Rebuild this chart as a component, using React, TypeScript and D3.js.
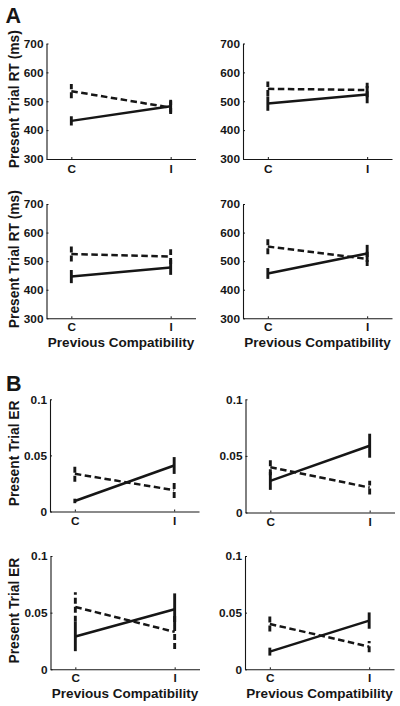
import React, { useEffect, useRef } from "react";
import * as d3 from "d3";

// ---- data ----
const conditions = ["C", "I"];
const conditionX = [1, 2];

const rtTicks = [300, 400, 500, 600, 700];
const rtTickLabels = ["300", "400", "500", "600", "700"];
const erTicks = [0, 0.05, 0.1];
const erTickLabels = ["0", "0.05", "0.1"];

// Panel A (RT, ms): [TL, TR, BL, BR], each [C, I]
const rtSolidMean = [[432, 483], [492, 523], [446, 478], [457, 527]];
const rtSolidErr = [[16, 22], [25, 30], [23, 26], [19, 30]];
const rtDashedMean = [[535, 478], [543, 539], [525, 516], [551, 508]];
const rtDashedErr = [[25, 22], [25, 25], [26, 26], [27, 25]];

// Panel B (ER): [TL, TR, BL, BR], each [C, I]
const erSolidMean = [[0.0094, 0.041], [0.028, 0.059], [0.029, 0.053], [0.0156, 0.043]];
const erSolidErr = [[0.002, 0.0075], [0.008, 0.0106], [0.013, 0.014], [0.0035, 0.0072]];
const erDashedMean = [[0.0336, 0.019], [0.04, 0.022], [0.055, 0.033], [0.04, 0.02]];
const erDashedErr = [[0.007, 0.007], [0.007, 0.006], [0.013, 0.015], [0.0067, 0.005]];

const rtYLabel = "Present Trial RT (ms)";
const erYLabel = "Present Trial ER";
const xLabel = "Previous Compatibility";

// ---- layout ----
const W = 400;
const H = 706;
const PANEL_W = 149;
const FONT = "'Liberation Sans', Arial, Helvetica, sans-serif";
const INK = "#161616";

const rtLayout = [
  { left: 46.5, top: 43.5, bottom: 159, yLabel: true, xLabel: false },
  { left: 243, top: 43.5, bottom: 159, yLabel: false, xLabel: false },
  { left: 46.5, top: 204, bottom: 318.3, yLabel: true, xLabel: true },
  { left: 243, top: 204, bottom: 318.3, yLabel: false, xLabel: true },
];
const erLayout = [
  { left: 50, top: 399.3, bottom: 511.5, yLabel: true, xLabel: false },
  { left: 245.5, top: 399.3, bottom: 512.5, yLabel: false, xLabel: false },
  { left: 50.5, top: 556, bottom: 669.3, yLabel: true, xLabel: true },
  { left: 245, top: 556, bottom: 669.3, yLabel: false, xLabel: true },
];

type Layout = { left: number; top: number; bottom: number; yLabel: boolean; xLabel: boolean };

function drawPanel(
  root: d3.Selection<SVGSVGElement, unknown, null, undefined>,
  lay: Layout,
  yDomain: [number, number],
  ticks: number[],
  tickLabels: string[],
  solidMean: number[],
  solidErr: number[],
  dashedMean: number[],
  dashedErr: number[],
  yLabelText: string
) {
  const x = d3.scaleLinear().domain([0.75, 2.25]).range([lay.left, lay.left + PANEL_W]);
  const y = d3.scaleLinear().domain(yDomain).range([lay.bottom, lay.top]);
  const g = root.append("g");

  // y axis
  const ya = g
    .append("g")
    .attr("transform", `translate(${lay.left},0)`)
    .call(
      d3
        .axisLeft(y)
        .tickValues(ticks)
        .tickFormat((_d, i) => tickLabels[i])
        .tickSize(-2)
        .tickSizeOuter(0)
        .tickPadding(3)
    );
  // x axis
  const xa = g
    .append("g")
    .attr("transform", `translate(0,${lay.bottom})`)
    .call(
      d3
        .axisBottom(x)
        .tickValues(conditionX)
        .tickFormat((_d, i) => conditions[i])
        .tickSize(-2)
        .tickSizeOuter(0)
        .tickPadding(lay.xLabel ? 4.2 : 5.5)
    );
  [ya, xa].forEach((a) => {
    a.select(".domain").attr("stroke", INK).attr("stroke-width", 1.1);
    a.selectAll(".tick line").attr("stroke", INK).attr("stroke-width", 1);
    a.selectAll("text")
      .attr("fill", INK)
      .style("font-family", FONT)
      .style("font-weight", "bold")
      .style("font-size", "11.8px");
  });

  const line = d3
    .line<number>()
    .x((_d, i) => x(conditionX[i]))
    .y((d) => y(d));

  const series = [
    { mean: solidMean, err: solidErr, dash: null as string | null },
    { mean: dashedMean, err: dashedErr, dash: "6.5,3.5" },
  ];
  series.forEach((s) => {
    g.append("path")
      .attr("d", line(s.mean))
      .attr("fill", "none")
      .attr("stroke", INK)
      .attr("stroke-width", 2.5)
      .attr("stroke-dasharray", s.dash);
    g.selectAll(null)
      .data(s.mean)
      .enter()
      .append("line")
      .attr("x1", (_d, i) => x(conditionX[i]))
      .attr("x2", (_d, i) => x(conditionX[i]))
      .attr("y1", (d, i) => y(d - s.err[i]))
      .attr("y2", (d, i) => y(d + s.err[i]))
      .attr("stroke", INK)
      .attr("stroke-width", 2.9)
      .attr("stroke-dasharray", s.dash ? "6,3" : null);
  });

  if (lay.yLabel) {
    const cy = (lay.top + lay.bottom) / 2 - 2;
    g.append("text")
      .attr("transform", `translate(18.5,${cy}) rotate(-90)`)
      .attr("text-anchor", "middle")
      .attr("fill", INK)
      .style("font-family", FONT)
      .style("font-weight", "bold")
      .style("font-size", "13.8px")
      .text(yLabelText);
  }
  if (lay.xLabel) {
    g.append("text")
      .attr("x", lay.left + PANEL_W / 2)
      .attr("y", lay.bottom + 28.4)
      .attr("text-anchor", "middle")
      .attr("fill", INK)
      .style("font-family", FONT)
      .style("font-weight", "bold")
      .style("font-size", "13.5px")
      .text(xLabel);
  }
}

export default function App() {
  const ref = useRef<SVGSVGElement>(null);
  useEffect(() => {
    if (!ref.current) return;
    const svg = d3.select(ref.current);
    svg.selectAll("*").remove();
    svg.append("rect").attr("width", W).attr("height", H).attr("fill", "#fff");

    rtLayout.forEach((lay, k) =>
      drawPanel(svg, lay, [300, 700], rtTicks, rtTickLabels, rtSolidMean[k], rtSolidErr[k], rtDashedMean[k], rtDashedErr[k], rtYLabel)
    );
    erLayout.forEach((lay, k) =>
      drawPanel(svg, lay, [0, 0.1], erTicks, erTickLabels, erSolidMean[k], erSolidErr[k], erDashedMean[k], erDashedErr[k], erYLabel)
    );

    const letters = [
      { t: "A", x: 5.5, y: 22.7 },
      { t: "B", x: 6, y: 390.7 },
    ];
    letters.forEach((l) =>
      svg
        .append("text")
        .attr("x", l.x)
        .attr("y", l.y)
        .attr("fill", INK)
        .style("font-family", FONT)
        .style("font-weight", "bold")
        .style("font-size", "21.5px")
        .text(l.t)
    );
  }, []);
  return (
    <svg
      ref={ref}
      width={W}
      height={H}
      style={{ position: "absolute", left: 0, top: 0, display: "block" }}
    />
  );
}
